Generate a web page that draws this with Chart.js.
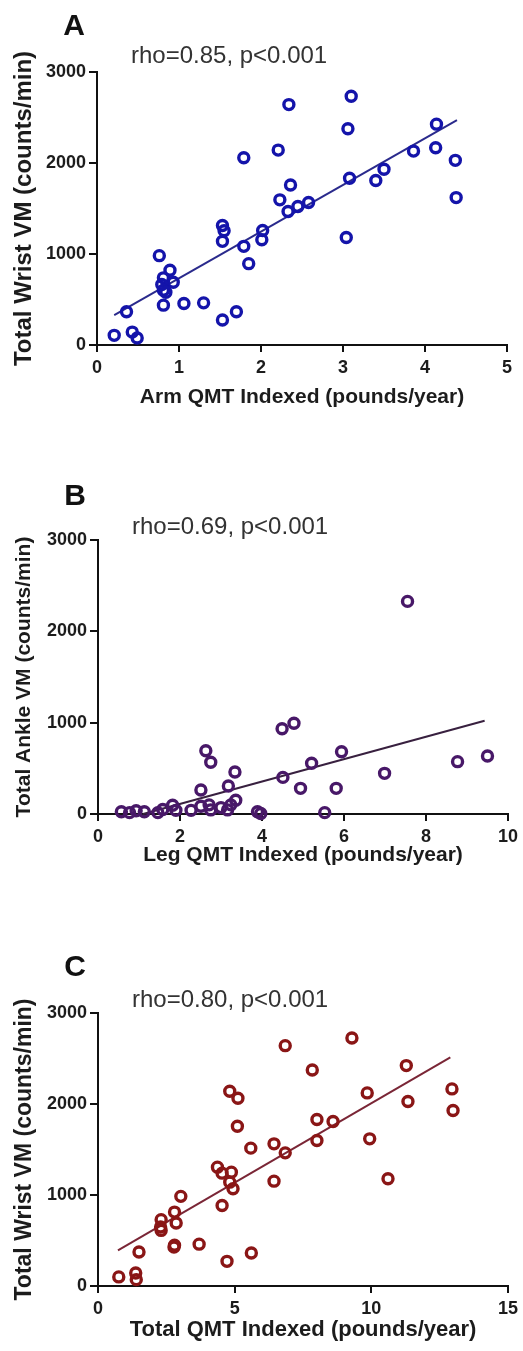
<!DOCTYPE html>
<html>
<head>
<meta charset="utf-8">
<script src="https://cdn.jsdelivr.net/npm/chart.js@4/dist/chart.umd.min.js"></script>
<style>
  body { margin: 0; background: #fff; width: 523px; height: 1351px; position: relative; overflow: hidden; }
  canvas { position: absolute; left: 0; }
</style>
</head>
<body>
<canvas id="chartA" width="523" height="440" style="top:0px"></canvas>
<canvas id="chartB" width="523" height="440" style="top:440px"></canvas>
<canvas id="chartC" width="523" height="471" style="top:880px"></canvas>
<script>
// panel A: arm QMT vs wrist VM
const armQmt = [0.21, 0.36, 0.43, 0.49, 0.76, 0.89, 0.81, 0.93, 0.79, 0.81, 0.84, 0.81, 1.06, 1.30, 1.53, 1.70,
  1.53, 1.55, 1.53, 1.79, 1.79, 1.85, 2.02, 2.01, 2.21, 2.34, 2.23, 2.36, 2.33, 2.45, 2.58,
  3.10, 3.06, 3.08, 3.04, 3.40, 3.50, 3.86, 4.14, 4.13, 4.37, 4.38];
const wristVmA = [106, 365, 142, 77, 982, 821, 738, 690, 665, 602, 580, 438, 456, 463, 274, 365,
  1314, 1255, 1139, 2058, 1084, 894, 1259, 1157, 2142, 2642, 1595, 1759, 1467, 1522, 1566,
  2734, 2376, 1832, 1182, 1807, 1931, 2131, 2427, 2168, 2029, 1620];
const trendAx = [0.21, 4.39];
const trendAy = [328, 2471];

// panel B: leg QMT vs ankle VM
const legQmt = [0.57, 0.77, 0.93, 1.13, 1.46, 1.58, 1.82, 1.90, 2.27, 2.51, 2.71, 2.75, 3.00, 3.16, 3.24, 3.36,
  3.89, 3.97, 2.51, 3.18, 2.63, 2.75, 3.34, 4.49, 4.78, 4.51, 4.94, 5.21, 5.81, 5.94, 5.53,
  6.99, 8.77, 9.50, 7.55];
const ankleVm = [25, 15, 35, 25, 15, 50, 95, 40, 40, 85, 100, 45, 70, 45, 100, 150,
  25, 5, 263, 307, 693, 566, 460, 934, 993, 401, 281, 555, 281, 682, 15,
  445, 573, 635, 2328];
const trendBx = [1.1, 9.43];
const trendBy = [0, 1021];

// panel C: total QMT vs wrist VM
const totalQmt = [0.76, 1.38, 1.40, 1.50, 2.31, 2.29, 2.31, 2.80, 2.86, 3.03, 2.80, 2.78, 3.70, 4.72, 5.61,
  4.54, 4.37, 4.54, 4.88, 4.82, 4.94, 4.82, 5.12, 5.10, 5.59, 6.44, 6.85, 6.44, 6.85, 7.84,
  8.01, 8.60, 8.01, 9.29, 9.85, 9.94, 10.61, 11.28, 11.34, 12.95, 12.99];
const wristVmC = [100, 143, 70, 373, 729, 648, 611, 812, 692, 985, 447, 428, 460, 271, 362,
  885, 1306, 1240, 1251, 1141, 1068, 2140, 2063, 1756, 1515, 1562, 1463, 1152, 2641, 2374,
  1829, 1807, 1599, 2726, 2122, 1617, 1178, 2422, 2027, 2166, 1928];
const trendCx = [0.73, 12.89];
const trendCy = [391, 2513];

const yTicks = [0, 1000, 2000, 3000];
const FONT = "'Liberation Sans', Arial, sans-serif";
const INK = '#1c1c1c';

const toPoints = (xs, ys) => xs.map((x, i) => ({ x: x, y: ys[i] }));

// panel letter and the rho text
const labelPlugin = {
  id: 'panelLabels',
  afterDraw(chart, args, opts) {
    const ctx = chart.ctx;
    ctx.save();
    ctx.fillStyle = '#111';
    ctx.textBaseline = 'middle';
    ctx.textAlign = 'center';
    ctx.font = 'bold 30px ' + FONT;
    ctx.fillText(opts.letter, opts.letterX, opts.letterY);
    ctx.fillStyle = '#333';
    ctx.textAlign = 'left';
    ctx.font = '24px ' + FONT;
    ctx.fillText(opts.rho, opts.rhoX, opts.rhoY);
    ctx.restore();
  },
};

const renderPanel = (p) => {
  const el = document.getElementById(p.id);
  const h = el.height;
  new Chart(el, {
    type: 'scatter',
    data: {
      datasets: [
        {
          data: toPoints(p.xs, p.ys),
          pointStyle: 'circle',
          pointRadius: 5,
          pointBorderWidth: 3.4,
          pointBackgroundColor: 'rgba(255,255,255,0)',
          pointBorderColor: p.color,
          clip: false,
          order: 1,
        },
        {
          data: toPoints(p.tx, p.ty),
          showLine: true,
          pointRadius: 0,
          borderColor: p.lineColor,
          borderWidth: 2,
          clip: false,
          order: 2,
        },
      ],
    },
    options: {
      responsive: false,
      animation: false,
      events: [],
      layout: { padding: { top: p.top, right: 523 - p.right, left: 0, bottom: 0 } },
      plugins: {
        legend: { display: false },
        tooltip: { enabled: false },
        panelLabels: p.labels,
      },
      scales: {
        x: {
          type: 'linear',
          min: 0,
          max: p.xMax,
          ticks: {
            stepSize: p.xStep, color: INK, padding: 5,
            callback: (v) => String(v),
            font: { family: FONT, size: 18, weight: 'bold' },
          },
          grid: { drawOnChartArea: false, drawTicks: true, tickLength: 7, color: '#111', lineWidth: 2 },
          border: { color: '#111', width: 2 },
          title: {
            display: true,
            text: p.xTitle,
            color: INK,
            font: { family: FONT, size: p.xTitleSize, weight: 'bold' },
            padding: { top: 0, bottom: p.xTitlePad },
          },
          afterFit: (s) => { s.height = h - p.bottom; },
        },
        y: {
          min: 0,
          max: 3000,
          afterBuildTicks: (s) => { s.ticks = yTicks.map((v) => ({ value: v })); },
          ticks: {
            color: INK, padding: 3,
            callback: (v) => String(v),
            font: { family: FONT, size: 18, weight: 'bold' },
          },
          grid: { drawOnChartArea: false, drawTicks: true, tickLength: 8, color: '#111', lineWidth: 2 },
          border: { color: '#111', width: 2 },
          title: {
            display: true,
            text: p.yTitle,
            color: INK,
            font: { family: FONT, size: p.yTitleSize, weight: 'bold' },
            padding: { top: 11 - (p.yTitleSize - 22) / 2, bottom: 0 },
          },
          afterFit: (s) => { s.width = p.left; },
        },
      },
    },
    plugins: [labelPlugin],
  });
};

renderPanel({
  id: 'chartA', xs: armQmt, ys: wristVmA, tx: trendAx, ty: trendAy,
  color: '#1414aa', lineColor: '#2a2a8c', xMax: 5, xStep: 1,
  left: 97, right: 507, top: 72, bottom: 345, xTitlePad: 30, xTitleSize: 21, yTitleSize: 24,
  xTitle: 'Arm QMT Indexed (pounds/year)', yTitle: 'Total Wrist VM (counts/min)',
  labels: { letter: 'A', letterX: 74, letterY: 27, rho: 'rho=0.85, p<0.001', rhoX: 131, rhoY: 56 },
});

renderPanel({
  id: 'chartB', xs: legQmt, ys: ankleVm, tx: trendBx, ty: trendBy,
  color: '#481868', lineColor: '#38203f', xMax: 10, xStep: 2,
  left: 98, right: 510, top: 100, bottom: 374, xTitlePad: 12, xTitleSize: 21, yTitleSize: 21,
  xTitle: 'Leg QMT Indexed (pounds/year)', yTitle: 'Total Ankle VM (counts/min)',
  labels: { letter: 'B', letterX: 75, letterY: 57, rho: 'rho=0.69, p<0.001', rhoX: 132, rhoY: 87 },
});

renderPanel({
  id: 'chartC', xs: totalQmt, ys: wristVmC, tx: trendCx, ty: trendCy,
  color: '#8a1616', lineColor: '#7a2636', xMax: 15, xStep: 5,
  left: 98, right: 509, top: 133, bottom: 406, xTitlePad: 8, xTitleSize: 22, yTitleSize: 23,
  xTitle: 'Total QMT Indexed (pounds/year)', yTitle: 'Total Wrist VM (counts/min)',
  labels: { letter: 'C', letterX: 75, letterY: 88, rho: 'rho=0.80, p<0.001', rhoX: 132, rhoY: 120 },
});
</script>
</body>
</html>
